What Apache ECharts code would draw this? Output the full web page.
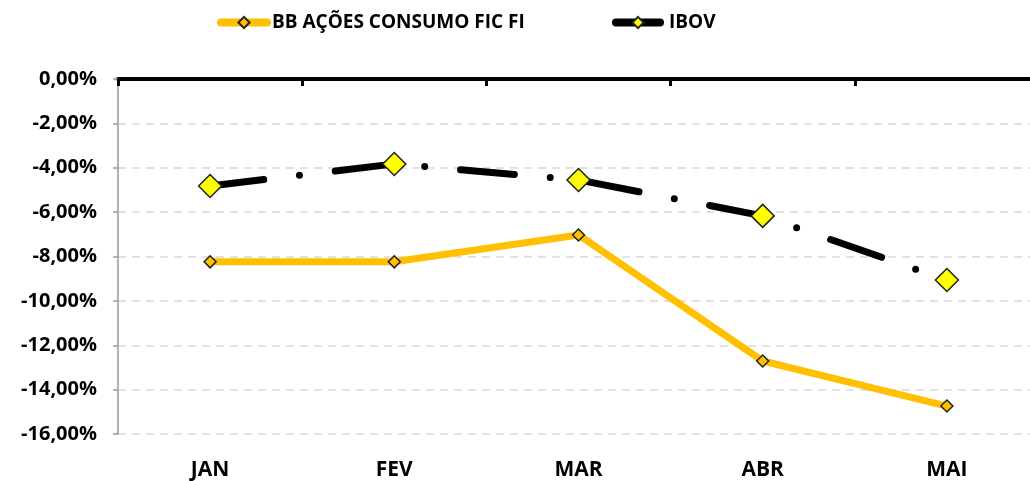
<!DOCTYPE html>
<html>
<head>
<meta charset="utf-8">
<script src="https://cdn.jsdelivr.net/npm/echarts@6/dist/echarts.min.js"></script>
<style>
  html, body { margin: 0; padding: 0; background: #fff; overflow: hidden; }
  #chart { width: 1039px; height: 481px; }
</style>
</head>
<body>
<div id="chart"></div>
<script>
// dados do gráfico
const meses = ['JAN', 'FEV', 'MAR', 'ABR', 'MAI']
const bbConsumo = [-8.24, -8.24, -7.03, -12.71, -14.74]
const ibov = [-4.82, -3.83, -4.55, -6.17, -9.06]

const fonte = 'Open Sans'
const chart = echarts.init(document.getElementById('chart'))

const fmtPct = v => v.toFixed(2).replace('.', ',') + '%'

const option = {
  animation: false,
  textStyle: { fontFamily: fonte },
  legend: [
    {
      data: ['BB AÇÕES CONSUMO FIC FI'],
      left: 212, top: 8,
      itemWidth: 46, itemHeight: 14,
      lineStyle: { width: 8, type: 'solid', cap: 'round' },
      textStyle: { fontFamily: fonte, fontWeight: 'bold', fontSize: 19, color: '#000' }
    },
    {
      data: ['IBOV'],
      left: 607, top: 8,
      itemWidth: 44, itemHeight: 14,
      lineStyle: { width: 8, type: 'solid', cap: 'round' },
      textStyle: { fontFamily: fonte, fontWeight: 'bold', fontSize: 19, color: '#000', padding: [0, 0, 0, 4] }
    }
  ],
  grid: { left: 118, right: 0, top: 79, bottom: 47 },
  xAxis: [
    {
      type: 'category',
      data: meses,
      position: 'top',
      boundaryGap: true,
      axisLine: { lineStyle: { color: '#000', width: 4 } },
      axisTick: { show: true, interval: 0, inside: true, length: 7, lineStyle: { color: '#000', width: 3 } },
      axisLabel: { show: false }
    },
    {
      type: 'category',
      data: meses,
      position: 'bottom',
      boundaryGap: true,
      axisLine: { show: false },
      axisTick: { show: false },
      axisLabel: { margin: 26, fontFamily: fonte, fontWeight: 'bold', fontSize: 21, color: '#000' }
    }
  ],
  yAxis: {
    type: 'value',
    min: -16, max: 0, interval: 2,
    axisLine: { show: true, lineStyle: { color: '#999', width: 1.5 } },
    axisTick: { show: true, length: 5, lineStyle: { color: '#999', width: 1.5 } },
    axisLabel: { formatter: fmtPct, margin: 21, fontFamily: fonte, fontWeight: 'bold', fontSize: 20, color: '#000' },
    splitLine: { lineStyle: { color: '#d9d9d9', type: [8, 6], width: 1.5 } }
  },
  series: [
    {
      name: 'BB AÇÕES CONSUMO FIC FI',
      type: 'line',
      data: bbConsumo,
      symbol: 'diamond',
      symbolSize: 12,
      lineStyle: { color: '#FFC000', width: 7 },
      itemStyle: { color: '#FFC000', borderColor: '#222', borderWidth: 1.5 }
    },
    {
      name: 'IBOV',
      type: 'line',
      data: ibov,
      symbol: 'diamond',
      symbolSize: 23,
      z: 3,
      lineStyle: { color: '#000', width: 7, type: [54, 36, 0, 36], cap: 'round' },
      itemStyle: { color: '#FFFF00', borderColor: '#222', borderWidth: 1.5 }
    }
  ]
}

chart.setOption(option)
</script>
</body>
</html>
